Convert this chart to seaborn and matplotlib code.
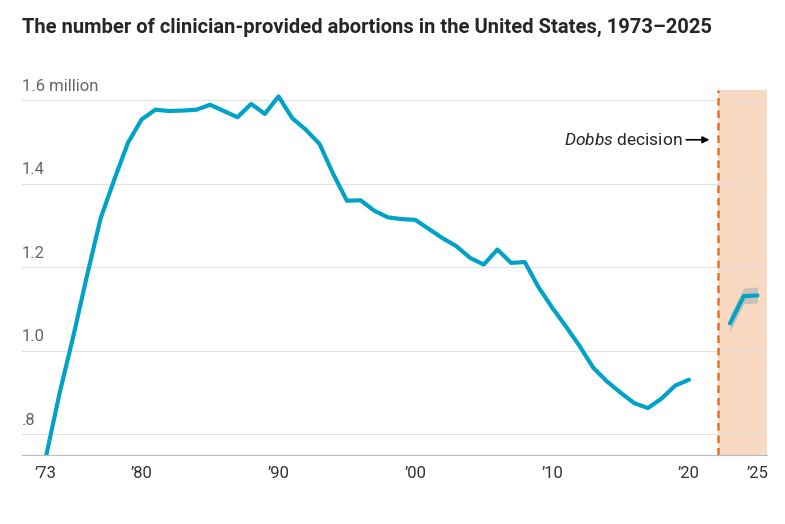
import numpy as np
import pandas as pd
import seaborn as sns
from matplotlib import pyplot as plt

years = list(range(1973, 2021))
abortions = [0.745, 0.898, 1.034, 1.179, 1.317, 1.410, 1.498, 1.554, 1.577, 1.574,
             1.575, 1.577, 1.589, 1.574, 1.559, 1.591, 1.567, 1.609, 1.557, 1.529,
             1.495, 1.423, 1.359, 1.360, 1.335, 1.319, 1.315, 1.313, 1.291, 1.269,
             1.250, 1.222, 1.206, 1.242, 1.210, 1.212, 1.152, 1.103, 1.058, 1.011,
             0.959, 0.926, 0.899, 0.874, 0.862, 0.885, 0.916, 0.930]
post_years = [2023, 2024, 2025]
post_vals = [1.065, 1.130, 1.132]
post_low = [1.045, 1.112, 1.114]
post_high = [1.085, 1.150, 1.152]
ytick_vals = [0.8, 1.0, 1.2, 1.4, 1.6]
ytick_labels = [".8", "1.0", "1.2", "1.4", "1.6 million"]
xtick_vals = [1973, 1980, 1990, 2000, 2010, 2020, 2025]
xtick_labels = ["\u201973", "\u201980", "\u201990", "\u201900", "\u201910", "\u201920", "\u201925"]

sns.set_style("white")
plt.rcParams['font.family'] = ['Roboto', 'DejaVu Sans']
plt.rcParams['mathtext.fontset'] = 'custom'
plt.rcParams['mathtext.it'] = 'Roboto:italic'
blue = "#00a3c7"

fig = plt.figure(figsize=(7.85, 5.24), dpi=100)
ax = fig.add_axes([0.028, 0.132, 0.949, 0.696])

ax.axvspan(2022.1, 2025.7, color="#f9d9c2", zorder=0, lw=0)
ax.axvline(2022.1, color="#e8702a", linestyle=(0, (3, 2)), lw=1.8, zorder=1)

for v, lab in zip(ytick_vals, ytick_labels):
    ax.axhline(v, color="#e2e2e2", lw=0.8, zorder=0.5)
    ax.text(1971.25, v + 0.015, lab, color="#666666", fontsize=12, va="bottom", ha="left")

sns.lineplot(x=years, y=abortions, color=blue, lw=3, ax=ax, zorder=3)
ax.fill_between(post_years, post_low, post_high, color="#9aa9ad", alpha=0.5, lw=0, zorder=2)
sns.lineplot(x=post_years, y=post_vals, color=blue, lw=3, ax=ax, zorder=3)

ax.set_xlim(1971.25, 2025.7)
ax.set_ylim(0.75, 1.624)
ax.set_yticks([])
ax.set_xticks(xtick_vals)
ax.set_xticklabels(xtick_labels, fontsize=12, color="#333333")
ax.tick_params(axis="x", length=0, pad=8)
for s in ["top", "right", "left"]:
    ax.spines[s].set_visible(False)
ax.spines["bottom"].set_color("#bbbbbb")

ax.annotate("", xy=(2021.7, 1.505), xytext=(2019.6, 1.505),
            arrowprops=dict(arrowstyle="-|>", color="black", lw=1.2))
ax.text(2019.5, 1.505, "$\\it{Dobbs}$ decision", fontsize=12.5, ha="right", va="center")

fig.text(0.028, 0.965, "The number of clinician-provided abortions in the United States, 1973\u20132025",
         fontsize=14.5, fontweight="bold", va="top", ha="left")

fig.savefig("out.png", dpi=100)
